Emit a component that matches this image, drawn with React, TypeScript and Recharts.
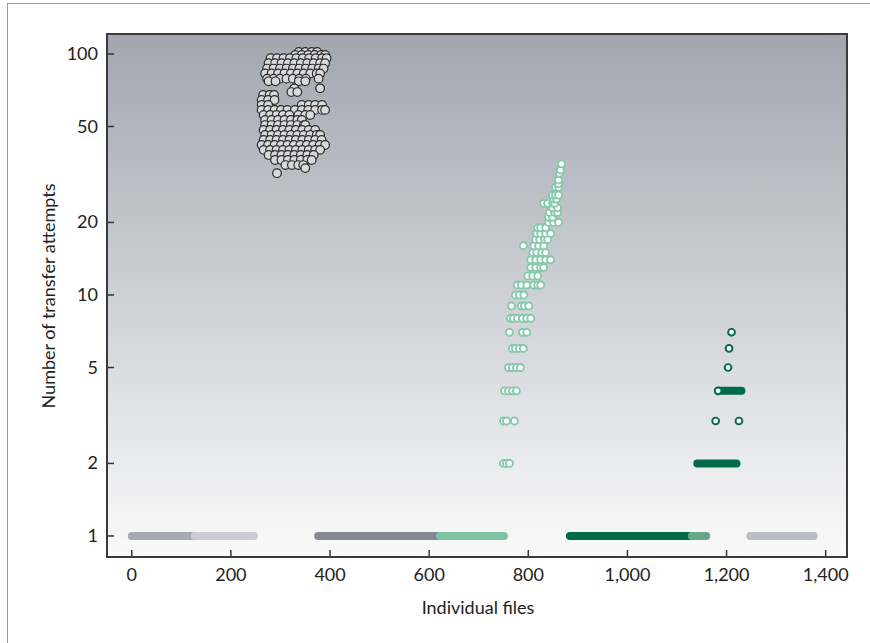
import { ScatterChart, Scatter, XAxis, YAxis, CartesianGrid } from 'recharts';

// axis setup
const X_TICKS = [0, 200, 400, 600, 800, 1000, 1200, 1400];
const Y_TICKS = [1, 2, 5, 10, 20, 50, 100];
const X_DOMAIN = [-50, 1443];
const Y_DOMAIN = [0.818, 121];

// dark cluster (files ~260-395, 32-102 attempts), one row per level
const darkRows = [
  { y: 102, xs: [337, 350, 363, 374] },
  { y: 99, xs: [330, 343, 356, 369, 382, 390] },
  { y: 96, xs: [280, 293, 306, 319, 332, 345, 358, 371, 384, 393] },
  { y: 91.5, xs: [276, 289, 302, 315, 328, 341, 354, 367, 380, 390] },
  { y: 87, xs: [273, 286, 299, 312, 325, 338, 351, 364, 377, 387] },
  { y: 83, xs: [269, 282, 295, 308, 321, 334, 347, 360, 373, 380] },
  { y: 79, xs: [273, 286, 299, 312, 325, 338, 351, 377] },
  { y: 77, xs: [276, 290, 337, 350] },
  { y: 72, xs: [328, 380] },
  { y: 69.5, xs: [322, 334] },
  { y: 67.6, xs: [265, 278, 287] },
  { y: 64.4, xs: [262, 275, 288] },
  { y: 61.4, xs: [262, 275, 343, 357, 370, 384] },
  { y: 58.6, xs: [262, 275, 288, 301, 314, 329, 343, 356, 370, 384, 390] },
  { y: 55.8, xs: [266, 279, 292, 305, 318, 336, 350, 360] },
  { y: 53.2, xs: [269, 282, 295, 308, 321, 334, 343] },
  { y: 50.7, xs: [269, 282, 295, 308, 321, 334, 347, 350] },
  { y: 48.4, xs: [266, 279, 292, 305, 318, 331, 344, 357, 370] },
  { y: 46.1, xs: [269, 282, 295, 308, 321, 334, 347, 360, 373, 380] },
  { y: 44, xs: [266, 279, 292, 305, 318, 331, 344, 357, 370, 383] },
  { y: 41.9, xs: [262, 275, 288, 301, 314, 327, 340, 353, 366, 379, 390] },
  { y: 40, xs: [266, 279, 292, 305, 318, 331, 344, 357, 370, 380] },
  { y: 38.1, xs: [276, 289, 302, 315, 328, 341, 354, 367] },
  { y: 36.3, xs: [289, 302, 315, 328, 341, 354, 363] },
  { y: 34.6, xs: [310, 323, 336, 346] },
  { y: 33.6, xs: [350] },
  { y: 32, xs: [293] },
];

// light teal cluster (files ~750-870)
const tealRows = [
  { y: 2, xs: [750, 756, 762] },
  { y: 3, xs: [750, 756, 772] },
  { y: 4, xs: [752, 760, 768, 776] },
  { y: 5, xs: [760, 768, 776, 784] },
  { y: 6, xs: [768, 774, 782, 790] },
  { y: 7, xs: [762, 788, 797] },
  { y: 8, xs: [764, 770, 778, 788, 797, 805] },
  { y: 9, xs: [766, 786, 792, 801] },
  { y: 10, xs: [774, 782, 791] },
  { y: 11, xs: [778, 786, 797, 811, 819, 825] },
  { y: 12, xs: [799, 809, 819] },
  { y: 13, xs: [805, 815, 825, 831] },
  { y: 14, xs: [805, 815, 825, 835, 845] },
  { y: 15, xs: [809, 817, 827, 835] },
  { y: 16, xs: [790, 811, 821, 831] },
  { y: 17, xs: [815, 823, 833, 839] },
  { y: 18, xs: [817, 825, 835, 845] },
  { y: 19, xs: [819, 825, 835] },
  { y: 20, xs: [841, 851, 861] },
  { y: 21, xs: [841, 849] },
  { y: 22, xs: [843, 853, 859] },
  { y: 23, xs: [849, 859] },
  { y: 24, xs: [831, 839, 849, 853] },
  { y: 25, xs: [851, 857] },
  { y: 26, xs: [849, 855, 861] },
  { y: 28, xs: [855, 861] },
  { y: 29, xs: [861] },
  { y: 30, xs: [861] },
  { y: 32, xs: [863] },
  { y: 33, xs: [865] },
  { y: 35, xs: [867] },
];

// dark green group
const greenPoints = [
  { x: 1210, y: 7 },
  { x: 1205, y: 6 },
  { x: 1203, y: 5 },
  { x: 1183, y: 4 },
  { x: 1178, y: 3 },
  { x: 1225, y: 3 },
];
// runs of files sharing one attempt count: [from, to, attempts]
const greenRuns = [
  [1183, 1230, 4],
  [1141, 1220, 2],
];
// single-attempt runs along the bottom: [from, to]
const baseRuns = [
  [0, 130],
  [127, 246],
  [376, 630],
  [622, 751],
  [884, 1130],
  [1130, 1159],
  [1248, 1376],
];
const BASE_COLORS = ['#a6a9b1', '#cbcdd3', '#858891', '#7fc2a6', '#006b47', '#66a68b', '#bbbdc5'];

const GREEN = '#006b47';
const TEAL = '#86c9ad';
const FONT = 'Lato, "Open Sans", sans-serif';

const flatten = (rows: { y: number; xs: number[] }[]) =>
  rows.flatMap((r) => r.xs.map((x) => ({ x, y: r.y })));

const fmtX = (v: number) => v.toLocaleString('en-US');

function XTick({ x, y, payload }: any) {
  return (
    <g>
      <line x1={x} x2={x} y1={y} y2={y - 7} stroke="#333" strokeWidth={1.5} />
      <text x={x} y={y + 24} textAnchor="middle" fontFamily={FONT} fontSize={18} fill="#222">
        {fmtX(payload.value)}
      </text>
    </g>
  );
}

function YTick({ x, y, payload }: any) {
  return (
    <g>
      <line x1={x} x2={x + 7} y1={y} y2={y} stroke="#333" strokeWidth={1.5} />
      <text x={x - 9} y={y + 6} textAnchor="end" fontFamily={FONT} fontSize={18} fill="#222">
        {payload.value}
      </text>
    </g>
  );
}

const dot = (r: number, fill: string, stroke: string, sw: number) => (p: any) =>
  <circle cx={p.cx} cy={p.cy} r={r} fill={fill} stroke={stroke} strokeWidth={sw} />;

const noShape = () => <g />;

export default function App() {
  const darkData = flatten(darkRows);
  const tealData = flatten(tealRows);

  return (
    <div
      style={{
        position: 'absolute',
        left: 0,
        top: 0,
        width: 870,
        height: 643,
        overflow: 'hidden',
        background: '#fff',
      }}
    >
      <div
        style={{
          position: 'absolute',
          left: 7,
          top: 3,
          width: 900,
          height: 700,
          borderLeft: '1px solid #9c9c9c',
          borderTop: '1px solid #9c9c9c',
        }}
      />
      <div style={{ position: 'absolute', left: 0, top: 0 }}>
        <ScatterChart width={870} height={643} margin={{ top: 34, right: 23, bottom: 56, left: 47 }}>
          <defs>
            <linearGradient id="plotBg" x1="0" y1="0" x2="0" y2="1">
              <stop offset="0%" stopColor="#a2a6af" />
              <stop offset="45%" stopColor="#c9ccd2" />
              <stop offset="100%" stopColor="#fafafa" />
            </linearGradient>
          </defs>
          <CartesianGrid horizontal={false} vertical={false} fill="url(#plotBg)" />
          <XAxis
            type="number"
            dataKey="x"
            domain={X_DOMAIN}
            allowDataOverflow
            ticks={X_TICKS}
            interval={0}
            height={30}
            axisLine={false}
            tickLine={false}
            tickSize={0}
            tickMargin={0}
            tick={<XTick />}
          />
          <YAxis
            type="number"
            dataKey="y"
            scale="log"
            domain={Y_DOMAIN}
            allowDataOverflow
            ticks={Y_TICKS}
            interval={0}
            width={60}
            axisLine={false}
            tickLine={false}
            tickSize={0}
            tickMargin={0}
            tick={<YTick />}
          />

          {baseRuns.map(([from, to], i) => (
            <Scatter
              key={'base' + i}
              data={[
                { x: from, y: 1 },
                { x: to, y: 1 },
              ]}
              fill={BASE_COLORS[i]}
              line={{ stroke: BASE_COLORS[i], strokeWidth: 8, strokeLinecap: 'round' }}
              shape={noShape}
              isAnimationActive={false}
            />
          ))}

          <Scatter data={darkData} shape={dot(4.3, '#d8d9dc', '#2b2b2b', 1.2)} isAnimationActive={false} />
          <Scatter data={tealData} shape={dot(3.5, '#ffffff', TEAL, 1.9)} isAnimationActive={false} />

          {greenRuns.map(([from, to, y], i) => (
            <Scatter
              key={'green' + i}
              data={[
                { x: from, y },
                { x: to, y },
              ]}
              fill={GREEN}
              line={{ stroke: GREEN, strokeWidth: 8, strokeLinecap: 'round' }}
              shape={noShape}
              isAnimationActive={false}
            />
          ))}
          <Scatter data={greenPoints} shape={dot(3.4, '#ffffff', GREEN, 1.9)} isAnimationActive={false} />
        </ScatterChart>
      </div>
      <div
        style={{
          position: 'absolute',
          left: 106,
          top: 33,
          width: 742,
          height: 525,
          boxSizing: 'border-box',
          border: '2px solid #3a3a3a',
          pointerEvents: 'none',
        }}
      />
      <div
        style={{
          position: 'absolute',
          left: 48,
          top: 296,
          transform: 'translate(-50%, -50%) rotate(-90deg)',
          whiteSpace: 'nowrap',
          fontFamily: FONT,
          fontSize: 18,
          color: '#222',
        }}
      >
        Number of transfer attempts
      </div>
      <div
        style={{
          position: 'absolute',
          left: 478,
          top: 607,
          transform: 'translate(-50%, -50%)',
          whiteSpace: 'nowrap',
          fontFamily: FONT,
          fontSize: 18,
          color: '#222',
        }}
      >
        Individual files
      </div>
    </div>
  );
}
